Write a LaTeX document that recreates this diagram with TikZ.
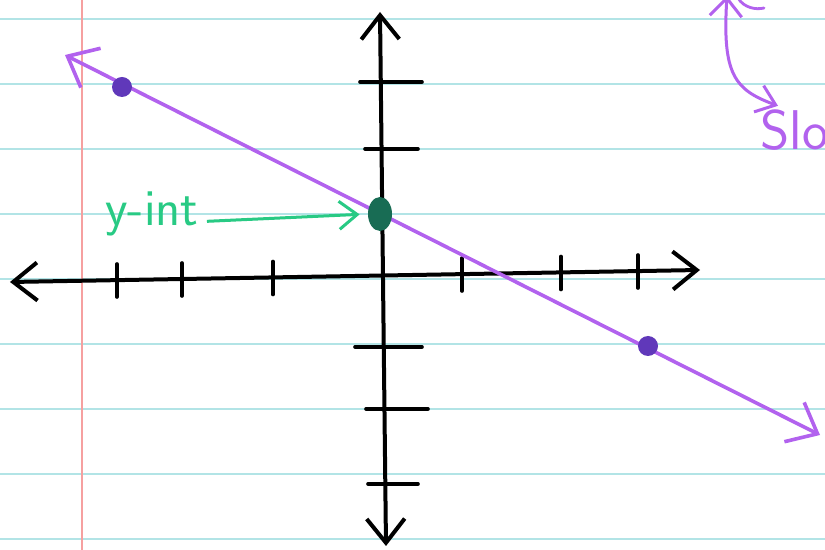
\documentclass[tikz,border=0pt]{standalone}
\usepackage{tikz}
\usetikzlibrary{arrows.meta,positioning,shapes.geometric}
\definecolor{rulecyan}{RGB}{178,228,230}
\definecolor{marginred}{RGB}{246,160,160}
\definecolor{penpurple}{RGB}{178,98,238}
\definecolor{dotpurple}{RGB}{96,56,186}
\definecolor{pengreen}{RGB}{40,202,132}
\definecolor{dotgreen}{RGB}{24,108,84}

\begin{document}
\begin{tikzpicture}[
  x=0.5pt, y=-0.5pt,
  ruled/.style={draw=rulecyan, line width=1.3pt},
  axis/.style={line width=2pt, line cap=round, {Straight Barb[length=12pt,width=19pt]}-{Straight Barb[length=12pt,width=19pt]}},
  tick/.style={line width=1.8pt, line cap=round},
  pline/.style={draw=penpurple, line width=1.8pt, {Straight Barb[length=13pt,width=22pt]}-{Straight Barb[length=13pt,width=22pt]}},
  dot/.style={circle, fill=dotpurple, inner sep=0pt, minimum size=10pt},
  gdot/.style={ellipse, fill=dotgreen, inner sep=0pt, minimum width=12pt, minimum height=17pt},
  lbl/.style={font=\sffamily\fontsize{26}{26}\selectfont, text=pengreen, inner sep=0pt},
  slopelbl/.style={font=\sffamily\fontsize{28}{28}\selectfont, text=penpurple, inner sep=0pt},
  garr/.style={draw=pengreen, line width=1.5pt, -{Straight Barb[length=9pt,width=14pt]}},
  parr/.style={draw=penpurple, line width=1.5pt, {Straight Barb[length=9pt,width=16pt]}-{Straight Barb[length=9pt,width=14pt]}}
]
\useasboundingbox (0,0) rectangle (825,550);
\clip (0,0) rectangle (825,550);
\fill[white] (0,0) rectangle (825,550);

% ruled paper
\foreach \y in {19,84,...,539}
  \draw[ruled] (0,\y) -- (825,\y);
\draw[marginred, line width=1.2pt] (82,0) -- (82,550);

% axes
\coordinate (xl) at (10,282);
\coordinate (xr) at (700,270);
\coordinate (yt) at (380,12);
\coordinate (yb) at (386,546);
\draw[axis] (xl) -- (xr);
\draw[axis] (yb) -- (yt);
\foreach \tx/\ty in {117/280,182/279,273/277.5,462/274,561/272.5,638/271}
  \draw[tick] (\tx,\ty-16) -- (\tx,\ty+17);
\foreach \ya/\yb/\yy in {360/422/82,365/418/149,355/422/347,366/428/409,368/418/484}
  \draw[tick] (\ya,\yy) -- (\yb,\yy);

% the line and its points
\coordinate (pl) at (65,55);
\coordinate (pr) at (820,435);
\draw[pline] (pl) -- (pr);
\node[dot] (pa) at (122,87) {};
\node[dot] (pb) at (648,346) {};
\node[gdot] (yint) at (380,214) {};

% labels
\node[lbl, anchor=base west] (ylab) at (105,226) {y-int};
\draw[garr, shorten <=4pt, shorten >=4pt] (ylab.mid east) -- (yint.west);

\node[slopelbl, anchor=base west] (slope) at (760,150) {Slope};
\coordinate (stop) at (727,-4);
\draw[parr] (stop) .. controls (722,75) and (735,90) .. ([xshift=9pt,yshift=2pt]slope.north west);
\draw[penpurple, line width=1.4pt, line cap=round] (738,-2) .. controls (744,8) and (756,10) .. (764,8);
\end{tikzpicture}
\end{document}
